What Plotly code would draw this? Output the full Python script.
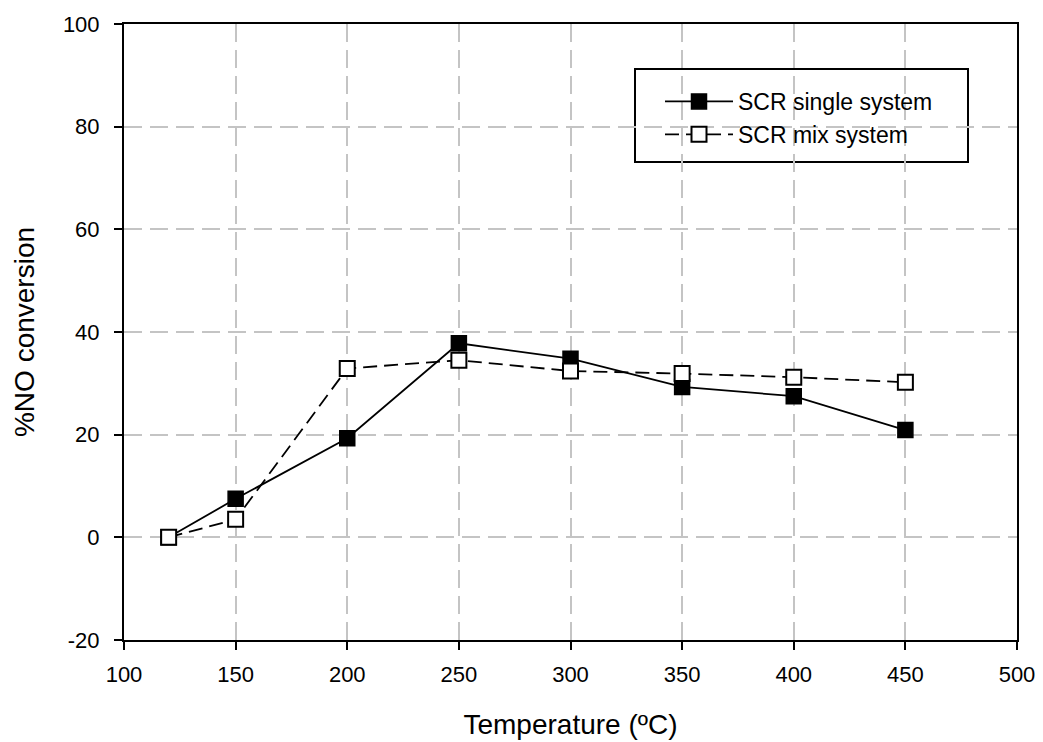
import plotly.graph_objects as go

temps = [120, 150, 200, 250, 300, 350, 400, 450]
scr_single = [0, 7.5, 19.3, 37.8, 34.8, 29.3, 27.5, 20.9]
scr_mix = [0, 3.5, 32.9, 34.5, 32.4, 31.9, 31.2, 30.2]
x_ticks = [100, 150, 200, 250, 300, 350, 400, 450, 500]
y_ticks = [-20, 0, 20, 40, 60, 80, 100]

FONT = "Liberation Sans, Arial, sans-serif"

fig = go.Figure()
fig.add_trace(go.Scatter(
    x=temps, y=scr_single, name="SCR single system", mode="lines+markers",
    line=dict(color="black", width=1.8, dash="solid"),
    marker=dict(symbol="square", size=15, color="black", line=dict(color="black", width=1.5)),
))
fig.add_trace(go.Scatter(
    x=temps, y=scr_mix, name="SCR mix system", mode="lines+markers",
    line=dict(color="black", width=1.8, dash="14px,7px"),
    marker=dict(symbol="square", size=15, color="white", line=dict(color="black", width=2)),
))

fig.update_layout(
    width=1043, height=742,
    margin=dict(l=124, r=26, t=24, b=102, autoexpand=False),
    plot_bgcolor="white", paper_bgcolor="white",
    font=dict(family=FONT, color="black", size=22),
    showlegend=True,
    legend=dict(
        x=(660 - 124) / 893, y=(640 - 80) / 616, xanchor="left", yanchor="top",
        bgcolor="rgba(0,0,0,0)", borderwidth=0,
        font=dict(family=FONT, size=23, color="black"),
        itemwidth=68,
    ),
    shapes=[dict(type="rect", xref="paper", yref="paper",
                 x0=(635 - 124) / 893, x1=(968 - 124) / 893,
                 y0=(640 - 162) / 616, y1=(640 - 69) / 616,
                 line=dict(color="black", width=2), fillcolor="white", layer="below")],
)
fig.update_xaxes(
    range=[100, 500], tickvals=x_ticks, ticktext=[str(v) for v in x_ticks],
    showline=True, linecolor="black", linewidth=2, mirror=True,
    ticks="outside", ticklen=8, tickwidth=2, tickcolor="black",
    showgrid=True, gridcolor="#c4c4c4", gridwidth=2, griddash="18px,8px",
    zeroline=False, ticklabelstandoff=6, automargin=False,
    title=dict(text="Temperature (ºC)", font=dict(size=28, family=FONT), standoff=28),
    tickfont=dict(size=22, family=FONT),
)
fig.update_yaxes(
    range=[-20, 100], tickvals=y_ticks, ticktext=[str(v) for v in y_ticks],
    showline=True, linecolor="black", linewidth=2, mirror=True,
    ticks="outside", ticklen=8, tickwidth=2, tickcolor="black",
    showgrid=True, gridcolor="#c4c4c4", gridwidth=2, griddash="18px,8px",
    zeroline=False, ticklabelstandoff=10, automargin=False,
    title=dict(text="%NO conversion", font=dict(size=28, family=FONT), standoff=20),
    tickfont=dict(size=22, family=FONT),
)

fig.write_html("out.html")
